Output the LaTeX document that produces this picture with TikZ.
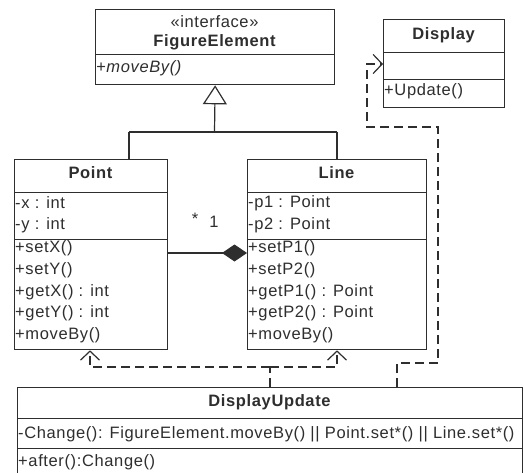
\documentclass[tikz,border=0pt]{standalone}
\usepackage{fontspec}
\setmainfont[LetterSpace=3.8]{Liberation Sans}
\usetikzlibrary{arrows.meta}
\definecolor{ink}{HTML}{2E2E2E}
\newcommand\umlsize{\fontsize{16.5}{19}\selectfont}
\begin{document}
\begin{tikzpicture}[x=1pt,y=-1pt,
  compartment/.style={draw=ink, line width=1.3pt, fill=white, inner sep=0pt, anchor=north west},
  member/.style={anchor=west, inner sep=0pt, text=ink, font=\umlsize},
  classname/.style={inner sep=0pt, text=ink, font=\umlsize\bfseries},
  stereo/.style={inner sep=0pt, text=ink, font=\umlsize},
  link/.style={draw=ink, line width=1.2pt},
  inherit/.style={link, -{Triangle[open, length=19pt, width=24pt, line width=1.2pt]}},
  owner/.style={link, {Diamond[length=25pt, width=17pt]}-},
  depends/.style={link, dash pattern=on 9pt off 5pt, -{Straight Barb[length=9pt, width=19pt, line width=1.2pt]}},
  depline/.style={link, dash pattern=on 9pt off 5pt}
]
\useasboundingbox (0,0) rectangle (524,473);

% FigureElement interface
\node[compartment, minimum width=239pt, minimum height=45pt] (fe-title) at (95,9) {};
\node[compartment, minimum width=239pt, minimum height=30pt] (fe-ops) at (95,54) {};
\node[stereo] (fe-stereo) at (214.5,22) {«interface»};
\node[classname] (fe-name) at (214.5,42) {FigureElement};
\node[member, font=\umlsize\itshape] (fe-m1) at (96,68) {+moveBy()};

% Display
\node[compartment, minimum width=121pt, minimum height=33pt] (dp-title) at (383,19) {};
\node[compartment, minimum width=121pt, minimum height=27pt] (dp-attr) at (383,52) {};
\node[compartment, minimum width=121pt, minimum height=28pt] (dp-ops) at (383,79) {};
\node[classname] (dp-name) at (443.5,35) {Display};
\node[member] (dp-m1) at (384,91) {+Update()};

% Point
\node[compartment, minimum width=153pt, minimum height=33pt] (pt-title) at (14,159) {};
\node[compartment, minimum width=153pt, minimum height=47pt] (pt-attr) at (14,192) {};
\node[compartment, minimum width=153pt, minimum height=110pt] (pt-ops) at (14,239) {};
\node[classname] (pt-name) at (90.5,173) {Point};
\node[member] (pt-a1) at (15,203) {-x : int};
\node[member] (pt-a2) at (15,225) {-y : int};
\node[member] (pt-m1) at (15,248) {+setX()};
\node[member] (pt-m2) at (15,270) {+setY()};
\node[member] (pt-m3) at (15,292) {+getX() : int};
\node[member] (pt-m4) at (15,313) {+getY() : int};
\node[member] (pt-m5) at (15,335) {+moveBy()};

% Line
\node[compartment, minimum width=179pt, minimum height=33pt] (ln-title) at (247,159) {};
\node[compartment, minimum width=179pt, minimum height=47pt] (ln-attr) at (247,192) {};
\node[compartment, minimum width=179pt, minimum height=110pt] (ln-ops) at (247,239) {};
\node[classname] (ln-name) at (336.5,173) {Line};
\node[member] (ln-a1) at (248,203) {-p1 : Point};
\node[member] (ln-a2) at (248,225) {-p2 : Point};
\node[member] (ln-m1) at (248,248) {+setP1()};
\node[member] (ln-m2) at (248,270) {+setP2()};
\node[member] (ln-m3) at (248,292) {+getP1() : Point};
\node[member] (ln-m4) at (248,313) {+getP2() : Point};
\node[member] (ln-m5) at (248,335) {+moveBy()};

% DisplayUpdate aspect
\node[compartment, minimum width=505pt, minimum height=31pt] (du-title) at (17,387) {};
\node[compartment, minimum width=505pt, minimum height=30pt] (du-attr) at (17,418) {};
\node[compartment, minimum width=505pt, minimum height=60pt] (du-ops) at (17,448) {};
\node[classname] (du-name) at (269.5,402) {DisplayUpdate};
\node[member] (du-a1) at (18,434) {-Change(): FigureElement.moveBy() || Point.set*() || Line.set*()};
\node[member] (du-m1) at (18,462) {+after():Change()};

% generalization tree
\coordinate (gen-join) at (214.5,132);
\coordinate (gen-left) at (129,132);
\coordinate (gen-right) at (337,132);
\draw[inherit] (gen-join) -- (fe-ops.south);
\draw[link] (gen-left) -- (gen-right);
\draw[link] (gen-left) -- (gen-left |- pt-title.north);
\draw[link] (gen-right) -- (gen-right |- ln-title.north);

% composition Line <>-- Point
\coordinate (comp-end) at (247,253);
\draw[owner] (comp-end) -- (comp-end -| pt-ops.east);
\node[inner sep=0pt, text=ink, font=\umlsize] (mult-many) at (195,219) {*};
\node[inner sep=0pt, text=ink, font=\umlsize] (mult-one) at (214,222) {1};

% dependencies of DisplayUpdate
\coordinate (dep-split) at (270,367);
\coordinate (dep-pt) at (90,367);
\coordinate (dep-ln) at (337,367);
\draw[depline] (dep-split |- du-title.north) -- (dep-split);
\draw[depends] (dep-split) -- (dep-pt) -- (dep-pt |- pt-ops.south);
\draw[depends] (dep-split) -- (dep-ln) -- (dep-ln |- ln-ops.south);

\coordinate (dd-a) at (397,363);
\coordinate (dd-b) at (438,363);
\coordinate (dd-c) at (438,127);
\coordinate (dd-d) at (367,127);
\coordinate (dd-e) at (367,64);
\draw[depends] (dd-a |- du-title.north) -- (dd-a) -- (dd-b) -- (dd-c) -- (dd-d) -- (dd-e) -- (dd-e -| dp-attr.west);
\end{tikzpicture}
\end{document}
